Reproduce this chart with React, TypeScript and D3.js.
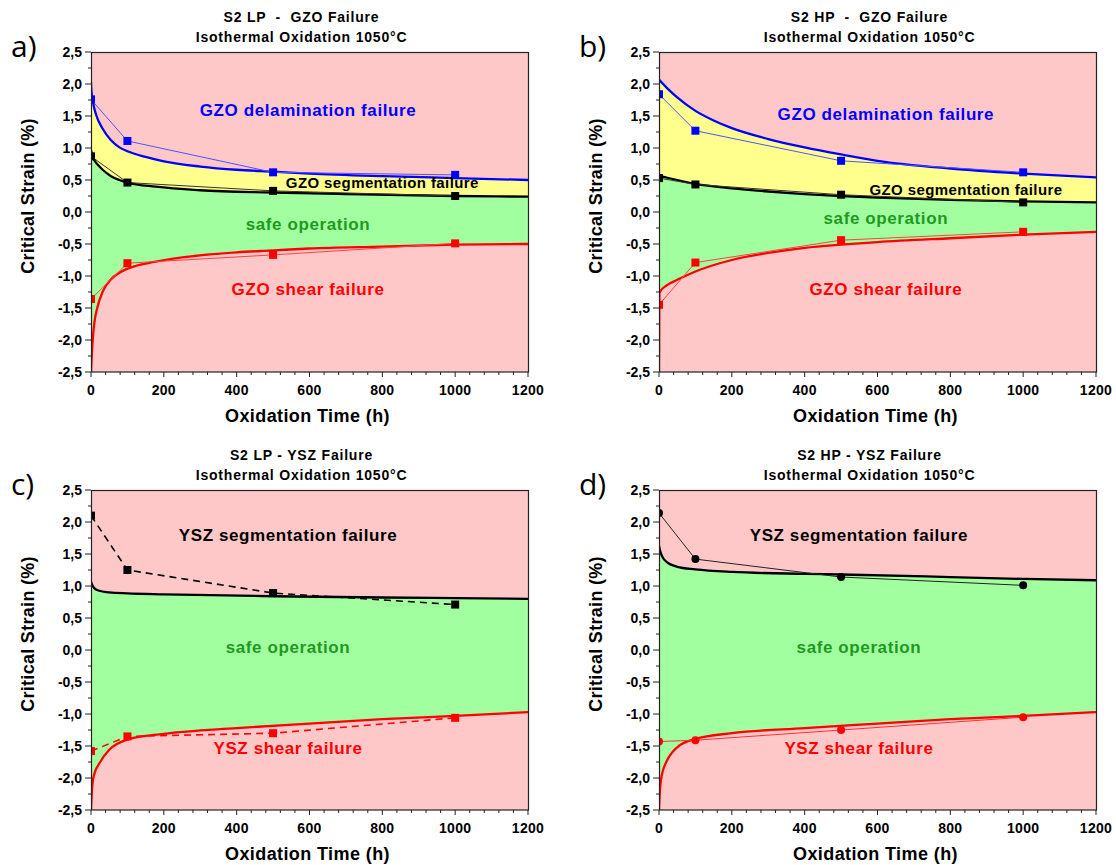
import * as d3 from "d3";

type Pt = [number, number];

const FONT = "Arial, 'Liberation Sans', sans-serif";
const PINK = "#ffc8c8";
const YELLOW = "#ffff8e";
const GREEN = "#a2ffa0";
const LABEL_GREEN = "#1e9a1e";

// time axis (h) and strain axis (%)
const xMajor = d3.range(0, 1201, 200);
const xMinor = d3.range(0, 1201, 40);
const yMajor = [-2.5, -2, -1.5, -1, -0.5, 0, 0.5, 1, 1.5, 2, 2.5];
const yMinor = [-2.25, -1.75, -1.25, -0.75, -0.25, 0.25, 0.75, 1.25, 1.75, 2.25];

// ---- a) S2 LP - GZO failure ----
const lpGzoDelamFit: Pt[] = [[0, 2.03], [1, 1.9], [6, 1.7], [14, 1.52], [32, 1.3], [55, 1.12], [78, 1.01], [100, 0.95], [150, 0.86], [200, 0.79], [300, 0.71], [400, 0.66], [500, 0.63], [600, 0.6], [800, 0.56], [1000, 0.53], [1200, 0.5]];
const lpGzoSegFit: Pt[] = [[0, 0.97], [3, 0.89], [10, 0.8], [20, 0.73], [32, 0.66], [55, 0.56], [78, 0.5], [100, 0.46], [178, 0.395], [300, 0.34], [500, 0.305], [700, 0.28], [1000, 0.25], [1200, 0.24]];
const lpGzoShearFit: Pt[] = [[0, -2.5], [2.5, -2.2], [4.7, -2.0], [9, -1.74], [18, -1.48], [32, -1.245], [55, -1.05], [78, -0.95], [124, -0.84], [174, -0.78], [250, -0.71], [400, -0.63], [500, -0.6], [600, -0.57], [800, -0.54], [1000, -0.51], [1200, -0.5]];
const lpGzoDelam: Pt[] = [[0, 1.76], [100, 1.11], [500, 0.62], [1000, 0.58]];
const lpGzoSeg: Pt[] = [[0, 0.87], [100, 0.46], [500, 0.33], [1000, 0.25]];
const lpGzoShear: Pt[] = [[0, -1.36], [100, -0.8], [500, -0.67], [1000, -0.49]];

// ---- b) S2 HP - GZO failure ----
const hpGzoDelamFit: Pt[] = [[0, 2.07], [25, 1.92], [50, 1.79], [100, 1.58], [150, 1.43], [200, 1.31], [300, 1.14], [400, 1.01], [500, 0.9], [600, 0.8], [800, 0.68], [1000, 0.6], [1200, 0.54]];
const hpGzoSegFit: Pt[] = [[0, 0.57], [50, 0.5], [100, 0.44], [200, 0.37], [300, 0.32], [400, 0.28], [500, 0.25], [600, 0.225], [800, 0.19], [1000, 0.165], [1200, 0.15]];
const hpGzoShearFit: Pt[] = [[0, -2.5], [1, -1.26], [20, -1.15], [50, -1.06], [100, -0.93], [200, -0.75], [300, -0.64], [400, -0.56], [500, -0.51], [600, -0.47], [800, -0.41], [1000, -0.355], [1200, -0.31]];
const hpGzoDelam: Pt[] = [[0, 1.84], [100, 1.27], [500, 0.8], [1000, 0.62]];
const hpGzoSeg: Pt[] = [[0, 0.53], [100, 0.43], [500, 0.27], [1000, 0.15]];
const hpGzoShear: Pt[] = [[0, -1.45], [100, -0.79], [500, -0.44], [1000, -0.31]];

// ---- c) S2 LP - YSZ failure ----
const lpYszSegFit: Pt[] = [[0, 1.07], [3, 1.02], [10, 0.96], [20, 0.93], [50, 0.9], [100, 0.885], [200, 0.87], [500, 0.84], [800, 0.82], [1000, 0.81], [1200, 0.8]];
const lpYszShearFit: Pt[] = [[0, -2.5], [2, -2.24], [5, -2.05], [10, -1.92], [20, -1.8], [50, -1.56], [100, -1.4], [200, -1.31], [400, -1.22], [600, -1.15], [800, -1.08], [1000, -1.03], [1200, -0.97]];
const lpYszSeg: Pt[] = [[0, 2.1], [100, 1.25], [500, 0.89], [1000, 0.71]];
const lpYszShear: Pt[] = [[0, -1.58], [100, -1.35], [500, -1.3], [1000, -1.06]];

// ---- d) S2 HP - YSZ failure ----
const hpYszSegFit: Pt[] = [[0, 1.63], [3, 1.55], [10, 1.45], [20, 1.38], [50, 1.3], [100, 1.26], [200, 1.22], [400, 1.19], [500, 1.18], [800, 1.14], [1000, 1.11], [1200, 1.09]];
const hpYszShearFit: Pt[] = [[0, -2.5], [2, -2.24], [5, -2.05], [10, -1.9], [20, -1.75], [50, -1.52], [100, -1.39], [200, -1.3], [400, -1.22], [600, -1.15], [800, -1.08], [1000, -1.03], [1200, -0.97]];
const hpYszSeg: Pt[] = [[0, 2.14], [100, 1.42], [500, 1.14], [1000, 1.01]];
const hpYszShear: Pt[] = [[0, -1.43], [100, -1.41], [500, -1.25], [1000, -1.05]];

const PW = 437;
const PH = 320;

type Series = { data: Pt[]; color: string; line: string; dash?: string; marker: "square" | "circle" };
type Label = { text: string; t: number; v: number; color: string; size: number; anchor: string };
type PanelCfg = {
  key: string;
  letter: string;
  title: [string, string];
  left: number;
  top: number;
  bands: { curve: Pt[]; fill: string }[];
  fits: { data: Pt[]; color: string }[];
  series: Series[];
  labels: Label[];
};

const panels: PanelCfg[] = [
  {
    key: "a", letter: "a)", title: ["S2 LP  -  GZO Failure", "Isothermal Oxidation 1050°C"], left: 91, top: 52,
    bands: [{ curve: lpGzoDelamFit, fill: YELLOW }, { curve: lpGzoSegFit, fill: GREEN }, { curve: lpGzoShearFit, fill: PINK }],
    fits: [{ data: lpGzoDelamFit, color: "#0000ff" }, { data: lpGzoSegFit, color: "#000" }, { data: lpGzoShearFit, color: "#ff0000" }],
    series: [
      { data: lpGzoDelam, color: "#0000ff", line: "#5050ff", marker: "square" },
      { data: lpGzoSeg, color: "#000", line: "#333", marker: "square" },
      { data: lpGzoShear, color: "#ff0000", line: "#ff4040", marker: "square" },
    ],
    labels: [
      { text: "GZO delamination failure", t: 596, v: 1.5, color: "#0000ff", size: 17, anchor: "middle" },
      { text: "GZO segmentation failure", t: 535, v: 0.375, color: "#000", size: 15, anchor: "start" },
      { text: "safe operation", t: 596, v: -0.28, color: LABEL_GREEN, size: 17, anchor: "middle" },
      { text: "GZO shear failure", t: 596, v: -1.3, color: "#ff0000", size: 17, anchor: "middle" },
    ],
  },
  {
    key: "b", letter: "b)", title: ["S2 HP  -  GZO Failure", "Isothermal Oxidation 1050°C"], left: 659, top: 52,
    bands: [{ curve: hpGzoDelamFit, fill: YELLOW }, { curve: hpGzoSegFit, fill: GREEN }, { curve: hpGzoShearFit, fill: PINK }],
    fits: [{ data: hpGzoDelamFit, color: "#0000ff" }, { data: hpGzoSegFit, color: "#000" }, { data: hpGzoShearFit, color: "#ff0000" }],
    series: [
      { data: hpGzoDelam, color: "#0000ff", line: "#5050ff", marker: "square" },
      { data: hpGzoSeg, color: "#000", line: "#333", marker: "square" },
      { data: hpGzoShear, color: "#ff0000", line: "#ff4040", marker: "square" },
    ],
    labels: [
      { text: "GZO delamination failure", t: 623, v: 1.44, color: "#0000ff", size: 17, anchor: "middle" },
      { text: "GZO segmentation failure", t: 578, v: 0.27, color: "#000", size: 15, anchor: "start" },
      { text: "safe operation", t: 623, v: -0.19, color: LABEL_GREEN, size: 17, anchor: "middle" },
      { text: "GZO shear failure", t: 623, v: -1.3, color: "#ff0000", size: 17, anchor: "middle" },
    ],
  },
  {
    key: "c", letter: "c)", title: ["S2 LP - YSZ Failure", "Isothermal Oxidation 1050°C"], left: 91, top: 490,
    bands: [{ curve: lpYszSegFit, fill: GREEN }, { curve: lpYszShearFit, fill: PINK }],
    fits: [{ data: lpYszSegFit, color: "#000" }, { data: lpYszShearFit, color: "#ff0000" }],
    series: [
      { data: lpYszSeg, color: "#000", line: "#000", dash: "7,5", marker: "square" },
      { data: lpYszShear, color: "#ff0000", line: "#ff0000", dash: "7,5", marker: "square" },
    ],
    labels: [
      { text: "YSZ segmentation failure", t: 541, v: 1.7, color: "#000", size: 17, anchor: "middle" },
      { text: "safe operation", t: 541, v: -0.05, color: LABEL_GREEN, size: 17, anchor: "middle" },
      { text: "YSZ shear failure", t: 541, v: -1.625, color: "#ff0000", size: 17, anchor: "middle" },
    ],
  },
  {
    key: "d", letter: "d)", title: ["S2 HP - YSZ Failure", "Isothermal Oxidation 1050°C"], left: 659, top: 490,
    bands: [{ curve: hpYszSegFit, fill: GREEN }, { curve: hpYszShearFit, fill: PINK }],
    fits: [{ data: hpYszSegFit, color: "#000" }, { data: hpYszShearFit, color: "#ff0000" }],
    series: [
      { data: hpYszSeg, color: "#000", line: "#222", marker: "circle" },
      { data: hpYszShear, color: "#ff0000", line: "#ff3030", marker: "circle" },
    ],
    labels: [
      { text: "YSZ segmentation failure", t: 549, v: 1.7, color: "#000", size: 17, anchor: "middle" },
      { text: "safe operation", t: 549, v: -0.05, color: LABEL_GREEN, size: 17, anchor: "middle" },
      { text: "YSZ shear failure", t: 549, v: -1.625, color: "#ff0000", size: 17, anchor: "middle" },
    ],
  },
];

const fmt = (v: number) => v.toFixed(1).replace(".", ",");

function Panel({ cfg }: { cfg: PanelCfg }) {
  const x = d3.scaleLinear().domain([0, 1200]).range([cfg.left, cfg.left + PW]);
  const y = d3.scaleLinear().domain([-2.5, 2.5]).range([cfg.top + PH, cfg.top]);
  const bottom = cfg.top + PH;

  const area = d3.area<Pt>().x((d) => x(d[0])).y0(bottom).y1((d) => y(d[1])).curve(d3.curveMonotoneX);
  const fitLine = d3.line<Pt>().x((d) => x(d[0])).y((d) => y(d[1])).curve(d3.curveMonotoneX);
  const dataLine = d3.line<Pt>().x((d) => x(d[0])).y((d) => y(d[1]));
  const clipId = `clip-${cfg.key}`;
  const cx = cfg.left + PW / 2;

  return (
    <g>
      <defs>
        <clipPath id={clipId}>
          <rect x={cfg.left} y={cfg.top} width={PW} height={PH} />
        </clipPath>
      </defs>

      {/* titles */}
      {cfg.title.map((t, i) => (
        <text
          key={i}
          x={cx - 8}
          y={cfg.top - 30 + i * 20}
          textAnchor="middle"
          fontFamily={FONT}
          fontWeight="bold"
          fontSize={14}
          letterSpacing={0.8}
          style={{ whiteSpace: "pre" }}
        >
          {t}
        </text>
      ))}
      <text x={cfg.left - 80} y={cfg.top + 5} fontFamily="'Open Sans', 'Liberation Sans', sans-serif" fontSize={30}>
        {cfg.letter}
      </text>

      <rect x={cfg.left} y={cfg.top} width={PW} height={PH} fill={PINK} />
      <g clipPath={`url(#${clipId})`}>
        {cfg.bands.map((b, i) => (
          <path key={i} d={area(b.curve) ?? ""} fill={b.fill} />
        ))}
        {cfg.fits.map((f, i) => (
          <path key={i} d={fitLine(f.data) ?? ""} fill="none" stroke={f.color} strokeWidth={2.3} />
        ))}
        {cfg.series.map((s, i) => (
          <g key={i}>
            <path
              d={dataLine(s.data) ?? ""}
              fill="none"
              stroke={s.line}
              strokeWidth={s.dash ? 1.6 : 1}
              strokeDasharray={s.dash}
            />
            {s.data.map((d, j) =>
              s.marker === "square" ? (
                <rect key={j} x={x(d[0]) - 4} y={y(d[1]) - 4} width={8} height={8} fill={s.color} />
              ) : (
                <circle key={j} cx={x(d[0])} cy={y(d[1])} r={4} fill={s.color} />
              )
            )}
          </g>
        ))}
      </g>

      {cfg.labels.map((l, i) => (
        <text
          key={i}
          x={x(l.t)}
          y={y(l.v)}
          textAnchor={l.anchor}
          fontFamily={FONT}
          fontWeight="bold"
          fontSize={l.size}
          letterSpacing={l.size > 15 ? 0.6 : 0.4}
          fill={l.color}
        >
          {l.text}
        </text>
      ))}

      {/* frame */}
      <rect x={cfg.left + 0.5} y={cfg.top + 0.5} width={PW} height={PH - 0.5} fill="none" stroke="#222" strokeWidth={1.2} />

      {/* x axis */}
      {xMinor.map((t) => (
        <line key={`xm${t}`} x1={x(t)} x2={x(t)} y1={bottom} y2={bottom + (t % 200 === 0 ? 5 : 3)} stroke="#222" />
      ))}
      {xMajor.map((t) => (
        <text key={`xl${t}`} x={x(t)} y={bottom + 23} textAnchor="middle" fontFamily={FONT} fontWeight="bold" fontSize={14} letterSpacing={0.3}>
          {t}
        </text>
      ))}
      <text x={cx - 2} y={bottom + 50} textAnchor="middle" fontFamily={FONT} fontWeight="bold" fontSize={18} letterSpacing={0.4}>
        Oxidation Time (h)
      </text>

      {/* y axis */}
      {yMinor.map((v) => (
        <line key={`ym${v}`} x1={cfg.left - 3} x2={cfg.left} y1={y(v)} y2={y(v)} stroke="#222" />
      ))}
      {yMajor.map((v) => (
        <g key={`yl${v}`}>
          <line x1={cfg.left - 6} x2={cfg.left} y1={y(v)} y2={y(v)} stroke="#222" />
          <text x={cfg.left - 9} y={y(v) + 5} textAnchor="end" fontFamily={FONT} fontWeight="bold" fontSize={14}>
            {fmt(v)}
          </text>
        </g>
      ))}
      <text
        transform={`translate(${cfg.left - 57},${cfg.top + PH / 2 - 16}) rotate(-90)`}
        textAnchor="middle"
        fontFamily={FONT}
        fontWeight="bold"
        fontSize={18}
        letterSpacing={0.3}
      >
        Critical Strain (%)
      </text>
    </g>
  );
}

export default function App() {
  return (
    <svg
      width={1116}
      height={865}
      viewBox="0 0 1116 865"
      style={{ position: "absolute", left: 0, top: 0, background: "#fff" }}
    >
      {panels.map((p) => (
        <Panel key={p.key} cfg={p} />
      ))}
    </svg>
  );
}
